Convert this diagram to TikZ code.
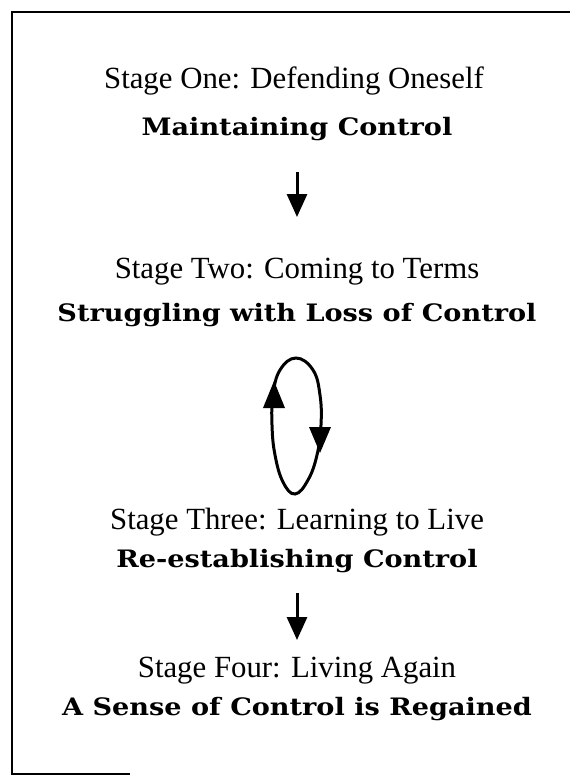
\documentclass[tikz,border=0pt]{standalone}
\usepackage{fontspec}
\usepackage{graphicx}
\setmainfont{Liberation Serif}
\newfontfamily\boldfam{DejaVu Serif}
\usetikzlibrary{arrows.meta}
\newcommand{\stagebold}[1]{\scalebox{1.13}[1]{\fontsize{12}{14}\boldfam\bfseries #1}}
\tikzset{
  stagetxt/.style={anchor=base, inner sep=0pt, font=\fontsize{15.4}{18}\selectfont},
  titletxt/.style={anchor=base, inner sep=0pt},
  flowarrow/.style={line width=1.5pt, -{Triangle[width=10pt,length=11.5pt]}},
  frameline/.style={line width=1pt},
  loopline/.style={line width=1.5pt},
  loophead/.style={fill=black}
}
\begin{document}
\begin{tikzpicture}[x=0.5pt,y=-0.5pt]
\useasboundingbox (0,0) rectangle (570,776);
% frame (open on the right)
\draw[frameline] (570,12) -- (12,12) -- (12,774) -- (130,774);

\node[stagetxt] (s1) at (294,88) {Stage One: Defending Oneself};
\node[titletxt] (t1) at (297,135) {\stagebold{Maintaining Control}};

\coordinate (a1s) at (297,172);
\coordinate (a1e) at (297,217);
\draw[flowarrow] (a1s) -- (a1e);

\node[stagetxt] (s2) at (297,278) {Stage Two: Coming to Terms};
\node[titletxt] (t2) at (297,321) {\stagebold{Struggling with Loss of Control}};

% cycle loop
\draw[loopline] plot[smooth cycle, tension=0.7] coordinates {
  (296,358) (313,370) (320,395) (321,425) (317,455) (308,480) (295,494)
  (283,482) (275,455) (272,425) (273,395) (280,370)};
\fill[loophead] (274,381) -- (263,408) -- (285,408) -- cycle;
\fill[loophead] (320,453) -- (309,427) -- (331,427) -- cycle;

\node[stagetxt] (s3) at (297,529) {Stage Three: Learning to Live};
\node[titletxt] (t3) at (297,567) {\stagebold{Re-establishing Control}};

\coordinate (a2s) at (297,593);
\coordinate (a2e) at (297,640);
\draw[flowarrow] (a2s) -- (a2e);

\node[stagetxt] (s4) at (297,677) {Stage Four: Living Again};
\node[titletxt] (t4) at (297,715) {\stagebold{A Sense of Control is Regained}};
\end{tikzpicture}
\end{document}
